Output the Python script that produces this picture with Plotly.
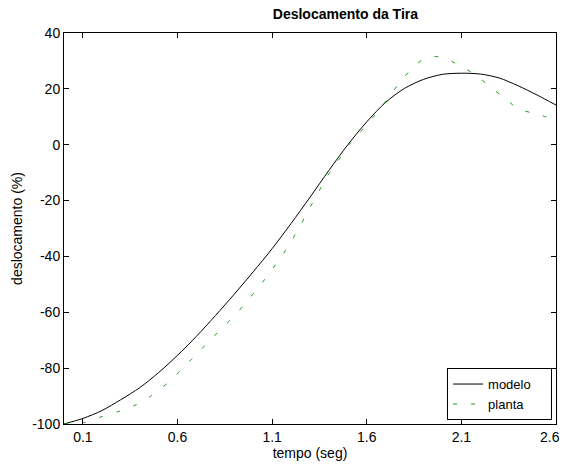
import plotly.graph_objects as go

# ---- data ----
modelo_t = [0.0, 0.1, 0.2, 0.3, 0.4, 0.5, 0.6, 0.7, 0.8, 0.9,
            1.0, 1.1, 1.2, 1.3, 1.4, 1.5, 1.6, 1.7, 1.8, 1.9,
            2.0, 2.1, 2.2, 2.3, 2.4, 2.5, 2.6]
modelo_y = [-100.0, -98.0, -95.2, -91.3, -87.0, -81.6, -75.4, -68.6, -61.2, -53.5,
            -45.5, -37.2, -28.2, -18.8, -9.2, 0.0, 8.2, 15.2, 20.2, 23.4,
            25.2, 25.6, 25.3, 23.9, 21.1, 17.8, 14.2]

planta_t = [0.0, 0.110, 0.202, 0.29, 0.382, 0.463, 0.542, 0.617, 0.688, 0.762,
            0.830, 0.906, 0.971, 1.034, 1.095, 1.152, 1.205, 1.253, 1.298, 1.344,
            1.392, 1.447, 1.509, 1.583, 1.647, 1.708, 1.768, 1.834, 1.909, 1.96,
            2.006, 2.094, 2.178, 2.252, 2.332, 2.402, 2.507, 2.6]
planta_y = [-100.0, -99.4, -97.3, -95.5, -93.1, -89.8, -85.6, -80.8, -75.8, -70.7,
            -66.0, -60.9, -55.7, -50.6, -45.1, -39.7, -34.1, -28.4, -22.7, -17.0,
            -11.2, -5.9, 0.2, 5.8, 10.9, 16.3, 21.7, 27.0, 31.1, 31.6,
            31.2, 28.2, 24.9, 20.7, 16.5, 12.7, 10.9, 8.6]

x_ticks = [0.1, 0.6, 1.1, 1.6, 2.1, 2.6]
x_ticktext = ["0.1", "0.6", "1.1", "1.6", "2.1", "2.6"]
y_ticks = [-100, -80, -60, -40, -20, 0, 20, 40]
y_ticktext = ["-100", "-80", "-60", "-40", "-20", "0", "20", "40"]

FONT = "Liberation Sans, Arial, Helvetica, sans-serif"
FS = 14

# the last tick label sits flush with the figure edge, so it is drawn right-aligned
axis_ticktext = x_ticktext[:-1] + [""]

fig = go.Figure()
fig.add_trace(go.Scatter(
    x=modelo_t, y=modelo_y, mode="lines", name="modelo\u00a0\u00a0\u00a0\u00a0",
    line=dict(color="black", width=1, shape="spline", smoothing=0.8),
))
fig.add_trace(go.Scatter(
    x=planta_t, y=planta_y, mode="lines", name="planta",
    line=dict(color="#1f9a1f", width=1, dash="4px,14px", shape="spline", smoothing=0.6),
))

fig.add_annotation(
    x=x_ticks[-1], xref="x", y=0, yref="paper", text=x_ticktext[-1],
    showarrow=False, xanchor="right", yanchor="middle", xshift=5, yshift=-13,
    font=dict(family=FONT, size=FS, color="black"), borderpad=0,
)

fig.update_layout(
    width=563, height=468,
    margin=dict(l=64, r=7, t=33, b=44),
    paper_bgcolor="white", plot_bgcolor="white",
    font=dict(family=FONT, size=FS, color="black"),
    title=dict(text="<b>Deslocamento da Tira</b>", x=0.572, xref="paper",
               xanchor="center", y=0.970, yref="container", yanchor="middle",
               font=dict(family=FONT, size=FS, color="black")),
    showlegend=True,
    legend=dict(x=0.992, y=0.01, xanchor="right", yanchor="bottom",
                bgcolor="white", bordercolor="black", borderwidth=1,
                font=dict(family=FONT, size=13, color="black"),
                itemwidth=30, tracegroupgap=0),
)
fig.update_xaxes(
    range=[0, 2.6], tickvals=x_ticks, ticktext=axis_ticktext,
    ticks="inside", ticklen=5, tickcolor="black", tickwidth=1,
    automargin="height",
    showline=True, linecolor="black", linewidth=1, mirror="ticks",
    showgrid=False, zeroline=False,
    title=dict(text="tempo (seg)", standoff=4, font=dict(family=FONT, size=FS)),
)
fig.update_yaxes(
    range=[-100, 40], tickvals=y_ticks, ticktext=y_ticktext,
    ticks="inside", ticklen=5, tickcolor="black", tickwidth=1,
    automargin="width",
    showline=True, linecolor="black", linewidth=1, mirror="ticks",
    showgrid=False, zeroline=False,
    title=dict(text="deslocamento (%)", standoff=6, font=dict(family=FONT, size=FS)),
)

fig.write_html("out.html")
